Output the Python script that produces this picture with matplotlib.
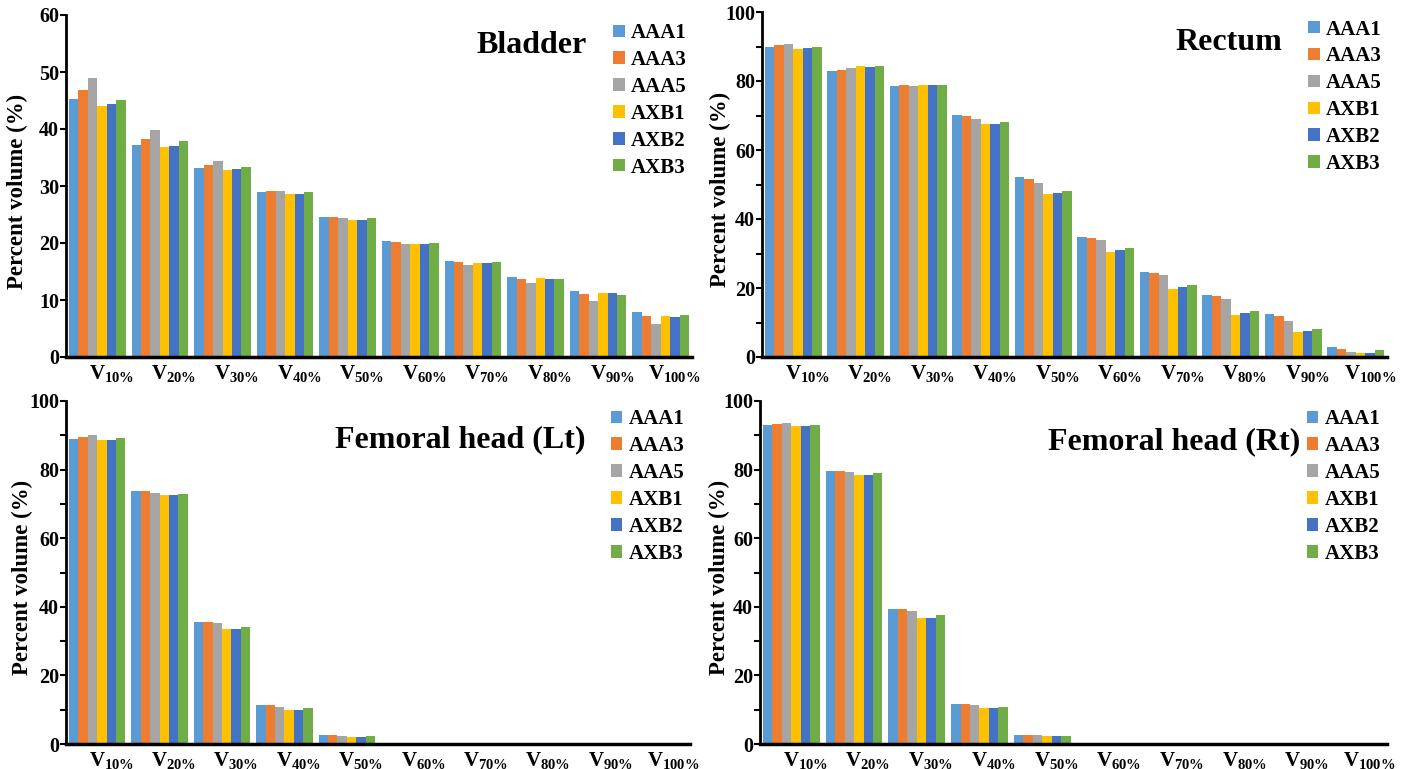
import numpy as np
import matplotlib
matplotlib.use('Agg')
import matplotlib.pyplot as plt
from matplotlib import transforms
from matplotlib.ticker import MultipleLocator

plt.rcParams['font.family'] = 'Liberation Serif'
plt.rcParams['font.weight'] = 'bold'
plt.rcParams['mathtext.fontset'] = 'custom'
plt.rcParams['mathtext.rm'] = 'Liberation Serif:bold'
plt.rcParams['mathtext.bf'] = 'Liberation Serif:bold'
plt.rcParams['mathtext.it'] = 'Liberation Serif:bold'

levels = ['10', '20', '30', '40', '50', '60', '70', '80', '90', '100']
series = ['AAA1', 'AAA3', 'AAA5', 'AXB1', 'AXB2', 'AXB3']
colors = ['#5B9BD5', '#ED7D31', '#A5A5A5', '#FFC000', '#4472C4', '#70AD47']

# rows = series (AAA1, AAA3, AAA5, AXB1, AXB2, AXB3), columns = V10..V100
bladder = [
    [45.3, 37.2, 33.1, 28.9, 24.5, 20.3, 16.8, 14.0, 11.5, 7.9],
    [46.8, 38.3, 33.6, 29.1, 24.5, 20.2, 16.7, 13.7, 11.0, 7.2],
    [48.9, 39.9, 34.4, 29.2, 24.3, 19.9, 16.2, 12.9, 9.9, 5.8],
    [44.1, 36.8, 32.8, 28.6, 24.1, 19.9, 16.5, 13.8, 11.3, 7.2],
    [44.3, 37.0, 32.9, 28.6, 24.1, 19.9, 16.5, 13.7, 11.2, 7.0],
    [45.1, 37.9, 33.4, 28.9, 24.3, 20.0, 16.6, 13.7, 10.9, 7.3],
]
rectum = [
    [89.9, 82.9, 78.5, 70.1, 52.2, 34.8, 24.6, 17.9, 12.5, 2.8],
    [90.3, 83.2, 78.7, 69.9, 51.6, 34.5, 24.4, 17.6, 11.8, 2.3],
    [90.8, 83.8, 78.5, 68.9, 50.3, 33.8, 23.9, 16.8, 10.3, 1.4],
    [89.3, 84.3, 78.8, 67.5, 47.2, 30.3, 19.7, 12.1, 7.2, 1.2],
    [89.6, 84.1, 78.8, 67.5, 47.4, 30.9, 20.2, 12.8, 7.4, 1.3],
    [89.8, 84.3, 78.8, 68.0, 48.2, 31.7, 21.0, 13.4, 8.0, 2.0],
]
femoral_lt = [
    [88.9, 73.8, 35.7, 11.3, 2.6, 0.3, 0.05, 0.0, 0.0, 0.0],
    [89.4, 73.8, 35.7, 11.3, 2.6, 0.3, 0.05, 0.0, 0.0, 0.0],
    [90.1, 73.3, 35.2, 10.9, 2.3, 0.2, 0.05, 0.0, 0.0, 0.0],
    [88.6, 72.6, 33.4, 10.0, 2.0, 0.3, 0.05, 0.0, 0.0, 0.0],
    [88.6, 72.6, 33.4, 10.0, 2.0, 0.1, 0.05, 0.0, 0.0, 0.0],
    [89.1, 72.9, 34.1, 10.6, 2.4, 0.3, 0.05, 0.0, 0.0, 0.0],
]
femoral_rt = [
    [93.0, 79.6, 39.3, 11.7, 2.7, 0.4, 0.05, 0.0, 0.0, 0.0],
    [93.3, 79.7, 39.3, 11.7, 2.7, 0.4, 0.05, 0.0, 0.0, 0.0],
    [93.7, 79.3, 38.8, 11.3, 2.6, 0.2, 0.05, 0.0, 0.0, 0.0],
    [92.6, 78.5, 36.8, 10.4, 2.4, 0.2, 0.05, 0.0, 0.0, 0.0],
    [92.6, 78.5, 36.8, 10.4, 2.2, 0.2, 0.05, 0.0, 0.0, 0.0],
    [92.9, 79.0, 37.6, 10.9, 2.4, 0.2, 0.05, 0.0, 0.0, 0.0],
]

W, H = 1407, 769
fig = plt.figure(figsize=(W / 100, H / 100), dpi=100)


def px_rect(left, right, top, bottom):
    return [left / W, 1 - bottom / H, (right - left) / W, (bottom - top) / H]


panels = [
    # rect, data, title, title size, title pos, ymax, major, minor, legend anchor, ylabel x
    (px_rect(66, 692, 15, 357), bladder, 'Bladder', 23, (0.832, 0.912), 60, 10, None, (0.874, 0.976), -0.077),
    (px_rect(762, 1387, 12, 357), rectum, 'Rectum', 23, (0.832, 0.912), 100, 20, 10, (0.874, 0.978), -0.066),
    (px_rect(66, 690, 401, 744), femoral_lt, 'Femoral head (Lt)', 23, (0.832, 0.886), 100, 20, 10, (0.873, 0.976), -0.07),
    (px_rect(760, 1387, 401, 744), femoral_rt, 'Femoral head (Rt)', 23, (0.861, 0.88), 100, 20, 10, (0.872, 0.976), -0.064),
]

x = np.arange(1, len(levels) + 1)
bw = 0.151

for rect, data, title, tsize, tpos, ymax, major, minor, leg_anchor, ylx in panels:
    ax = fig.add_axes(rect)
    for i, name in enumerate(series):
        ax.bar(x + (i - 2.5) * bw, data[i], width=bw, color=colors[i], label=name)
    ax.set_xlim(0.5, 10.5)
    ax.set_ylim(0, ymax)
    ax.yaxis.set_major_locator(MultipleLocator(major))
    if minor:
        ax.yaxis.set_minor_locator(MultipleLocator(minor))
        ax.tick_params(axis='y', which='minor', direction='out', length=4, width=1.5)
    ax.tick_params(axis='y', which='major', direction='out', length=4, width=1.5, labelsize=14.5, pad=1)
    ax.tick_params(axis='x', length=0, pad=4)
    ax.set_xticks(x)
    ax.set_xticklabels([r'$\mathbf{V}_{\mathbf{' + v + r'\%}}$' for v in levels], fontsize=15)
    offset = transforms.ScaledTranslation(14 / 100, 0, fig.dpi_scale_trans)
    for lab in ax.get_xticklabels():
        lab.set_transform(lab.get_transform() + offset)
    for s in ['top', 'right']:
        ax.spines[s].set_visible(False)
    ax.spines['left'].set_linewidth(2)
    ax.spines['bottom'].set_linewidth(2.5)
    ax.set_ylabel('Percent volume (%)', fontsize=16.5, fontweight='bold', va='center')
    ax.yaxis.set_label_coords(ylx, 0.485)
    ax.text(tpos[0], tpos[1], title, transform=ax.transAxes, ha='right', va='center',
            fontsize=tsize, fontweight='bold')
    ax.legend(loc='upper left', bbox_to_anchor=leg_anchor, frameon=False, fontsize=15,
              handlelength=0.55, handleheight=0.55, handletextpad=0.3, labelspacing=0.33,
              borderpad=0, borderaxespad=0)

fig.savefig('out.png', dpi=100)
